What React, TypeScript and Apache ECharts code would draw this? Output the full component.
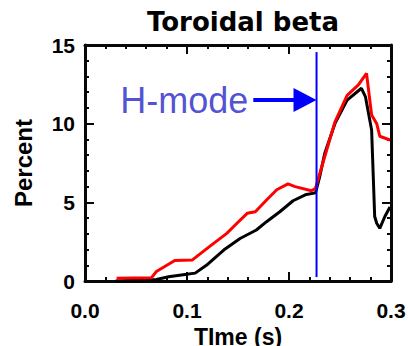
import React, { useEffect, useRef } from "react";
import * as echarts from "echarts";

const timeRed = [0.031, 0.065, 0.07, 0.088, 0.105, 0.121, 0.139, 0.149, 0.159, 0.167, 0.178, 0.188, 0.199, 0.206, 0.222, 0.226, 0.235, 0.245, 0.257, 0.268, 0.276, 0.281, 0.286, 0.289, 0.299];
const betaRed = [0.17, 0.2, 0.6, 1.3, 1.33, 2.14, 3.03, 3.67, 4.3, 4.4, 5.15, 5.8, 6.17, 6.0, 5.74, 5.9, 7.9, 10.1, 11.8, 12.46, 13.2, 10.55, 10.0, 9.2, 8.96];

const timeBlack = [0.03, 0.07, 0.082, 0.098, 0.108, 0.119, 0.136, 0.152, 0.168, 0.178, 0.191, 0.204, 0.217, 0.226, 0.23, 0.235, 0.245, 0.257, 0.271, 0.275, 0.281, 0.284, 0.286, 0.289, 0.294, 0.299];
const betaBlack = [0.0, 0.1, 0.27, 0.42, 0.5, 1.0, 1.97, 2.7, 3.24, 3.77, 4.4, 5.1, 5.5, 5.6, 6.6, 8.1, 10.0, 11.5, 12.25, 11.7, 9.6, 4.1, 3.67, 3.35, 4.1, 4.7];

const hModeTime = 0.227;
const hModeLineRange = [0.25, 14.55];
const arrowStart = 0.165;
const arrowEnd = 0.2157;
const arrowLevel = 11.5;
const hModeLabel = "H-mode";

const xTicks = [0, 0.1, 0.2, 0.3];
const yTicks = [0, 5, 10, 15];

const ax = (c: string) => ({
  axisLine: { show: true, onZero: false, lineStyle: { color: c, width: 3 } },
  axisTick: { show: true, inside: true, length: 9, lineStyle: { color: c, width: 2 } },
  minorTick: { show: true, splitNumber: 5, length: 4, lineStyle: { color: c, width: 2 } },
  splitLine: { show: false },
});

const boxColor = "rgb(8,8,8)";

export default function App() {
  const ref = useRef<HTMLDivElement>(null);
  useEffect(() => {
    if (!ref.current) return;
    const chart = echarts.init(ref.current, null, { renderer: "svg" });
    chart.setOption({
      animation: false,
      title: {
        text: "Toroidal beta",
        left: 238,
        textAlign: "center",
        top: 4,
        textStyle: { fontFamily: "DejaVu Sans", fontWeight: "bold", fontSize: 26, color: "#000" },
      },
      grid: { left: 85, top: 45, width: 306, height: 236, outerBoundsMode: "none" },
      xAxis: [
        {
          type: "value",
          min: xTicks[0],
          max: xTicks[xTicks.length - 1],
          interval: 0.1,
          position: "bottom",
          ...ax(boxColor),
          axisLabel: { fontFamily: "Liberation Sans", fontWeight: "bold", fontSize: 21, color: "#000", margin: 19, formatter: (v: number) => v.toFixed(1) },
          name: "TIme (s)",
          nameLocation: "middle",
          nameGap: 35,
          nameTextStyle: { fontFamily: "Liberation Sans", fontWeight: "bold", fontSize: 23, color: "#000" },
        },
        {
          type: "value",
          min: xTicks[0],
          max: xTicks[xTicks.length - 1],
          interval: 0.1,
          position: "top",
          ...ax(boxColor),
          axisLabel: { show: false },
        },
      ],
      yAxis: [
        {
          type: "value",
          min: yTicks[0],
          max: yTicks[yTicks.length - 1],
          interval: 5,
          position: "left",
          ...ax(boxColor),
          axisLabel: { fontFamily: "Liberation Sans", fontWeight: "bold", fontSize: 21, color: "#000", margin: 10 },
          name: "Percent",
          nameLocation: "middle",
          nameRotate: 90,
          nameGap: 50,
          nameTextStyle: { fontFamily: "Liberation Sans", fontWeight: "bold", fontSize: 24, color: "#000" },
        },
        {
          type: "value",
          min: yTicks[0],
          max: yTicks[yTicks.length - 1],
          interval: 5,
          position: "right",
          ...ax(boxColor),
          axisLabel: { show: false },
        },
      ],
      series: [
        {
          type: "line",
          data: timeBlack.map((t, i) => [t, betaBlack[i]]),
          showSymbol: false,
          lineStyle: { color: "#000", width: 3 },
        },
        {
          type: "line",
          data: timeRed.map((t, i) => [t, betaRed[i]]),
          showSymbol: false,
          lineStyle: { color: "#ff0000", width: 3 },
        },
        {
          type: "line",
          data: hModeLineRange.map((v) => [hModeTime, v]),
          showSymbol: false,
          lineStyle: { color: "#0000ff", width: 2 },
          markLine: {
            silent: true,
            symbol: ["none", "triangle"],
            symbolSize: [24, 23],
            label: { show: false },
            lineStyle: { color: "#0000ff", width: 4, type: "solid" },
            data: [[{ coord: [arrowStart, arrowLevel] }, { coord: [arrowEnd, arrowLevel] }]],
          },
        },
        {
          type: "scatter",
          data: [[arrowStart - 0.003, arrowLevel]],
          symbolSize: 0,
          label: {
            show: true,
            position: "left",
            distance: 2,
            formatter: hModeLabel,
            fontFamily: "Liberation Sans",
            fontSize: 36,
            color: "#2323c8",
          },
        },
      ],
    });
    return () => chart.dispose();
  }, []);
  return <div ref={ref} style={{ position: "fixed", left: 0, top: 0, width: 408, height: 346, background: "#fff" }} />;
}
